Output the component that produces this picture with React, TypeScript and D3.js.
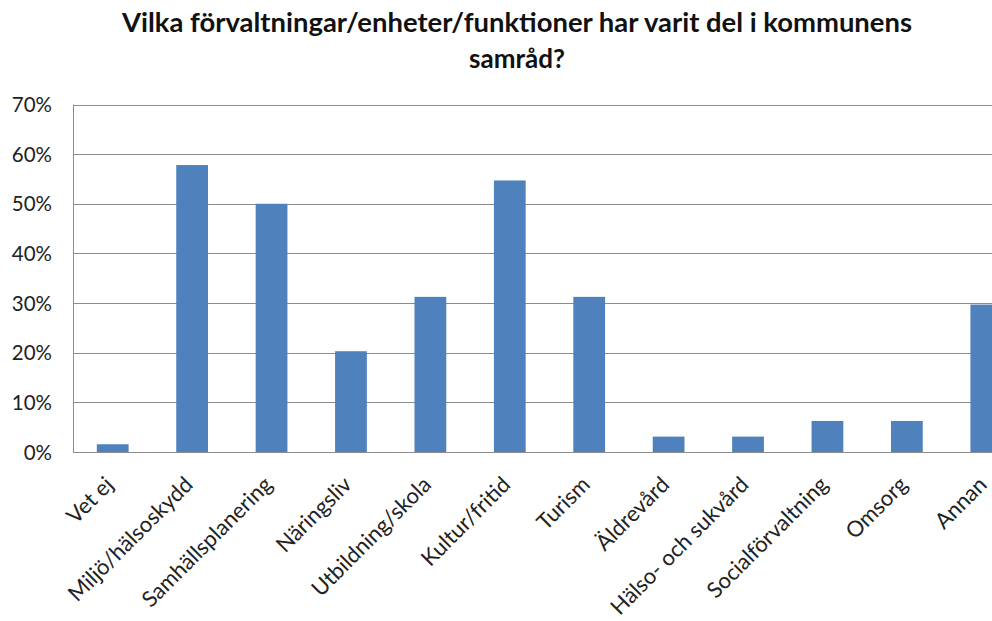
import React, { useEffect, useRef } from "react";
import * as d3 from "d3";

const categories = [
  "Vet ej",
  "Miljö/hälsoskydd",
  "Samhällsplanering",
  "Näringsliv",
  "Utbildning/skola",
  "Kultur/fritid",
  "Turism",
  "Äldrevård",
  "Hälso- och sukvård",
  "Socialförvaltning",
  "Omsorg",
  "Annan",
];
const values = [0.0156, 0.578, 0.5, 0.203, 0.3125, 0.547, 0.3125, 0.031, 0.031, 0.0625, 0.0625, 0.297];
const yTicks = [0, 0.1, 0.2, 0.3, 0.4, 0.5, 0.6, 0.7];
const titleLines = ["Vilka förvaltningar/enheter/funktioner har varit del i kommunens", "samråd?"];

const W = 992;
const H = 621;
const plotLeft = 73;
const plotRight = 1026;
const plotTop = 104.5;
const plotBottom = 452;
const FONT = "Lato, 'Open Sans', sans-serif";

export default function App() {
  const ref = useRef<SVGSVGElement | null>(null);

  useEffect(() => {
    const svg = d3.select(ref.current);
    svg.selectAll("*").remove();

    const x = d3.scaleBand<string>().domain(categories).range([plotLeft, plotRight]).paddingInner(0.6).paddingOuter(0.3);
    const y = d3.scaleLinear().domain([0, 0.7]).range([plotBottom, plotTop]);

    svg.append("rect").attr("width", W).attr("height", H).attr("fill", "#fff");

    // title
    const t = svg.append("g").attr("font-family", FONT).attr("font-weight", "bold").attr("font-size", 26).attr("fill", "#111");
    titleLines.forEach((line, i) => {
      const el = t.append("text").attr("x", 517).attr("y", 32 + i * 36).attr("text-anchor", "middle").text(line);
      if (i === 0) el.attr("textLength", 790).attr("lengthAdjust", "spacingAndGlyphs");
    });

    // gridlines
    svg.append("g")
      .selectAll("line")
      .data(yTicks)
      .join("line")
      .attr("x1", plotLeft)
      .attr("x2", W)
      .attr("y1", (d) => Math.round(y(d)) + 0.5)
      .attr("y2", (d) => Math.round(y(d)) + 0.5)
      .attr("stroke", "#8c8c8c")
      .attr("stroke-width", 1);

    // left axis line
    svg.append("line")
      .attr("x1", plotLeft + 0.5)
      .attr("x2", plotLeft + 0.5)
      .attr("y1", plotTop)
      .attr("y2", plotBottom)
      .attr("stroke", "#8c8c8c");

    // y tick labels
    svg.append("g")
      .attr("font-family", FONT)
      .attr("font-size", 20.5)
      .attr("fill", "#222")
      .selectAll("text")
      .data(yTicks)
      .join("text")
      .attr("x", 52)
      .attr("y", (d) => y(d) + 7.5)
      .attr("text-anchor", "end")
      .text((d) => d3.format(".0%")(d));

    // bars
    svg.append("g")
      .selectAll("rect")
      .data(values)
      .join("rect")
      .attr("x", (_, i) => x(categories[i])!)
      .attr("width", x.bandwidth())
      .attr("y", (d) => y(d))
      .attr("height", (d) => plotBottom - y(d))
      .attr("fill", "#4f81bd");

    // x labels
    svg.append("g")
      .attr("font-family", FONT)
      .attr("font-size", 22)
      .attr("fill", "#222")
      .selectAll("text")
      .data(categories)
      .join("text")
      .attr("text-anchor", "end")
      .attr("transform", (d) => {
        const cx = x(d)! + x.bandwidth() / 2 + 2;
        return `translate(${cx},${plotBottom + 34}) rotate(-45)`;
      })
      .text((d) => d);
  }, []);

  return (
    <svg
      ref={ref}
      width={W}
      height={H}
      style={{ position: "absolute", left: 0, top: 0, display: "block" }}
    />
  );
}
